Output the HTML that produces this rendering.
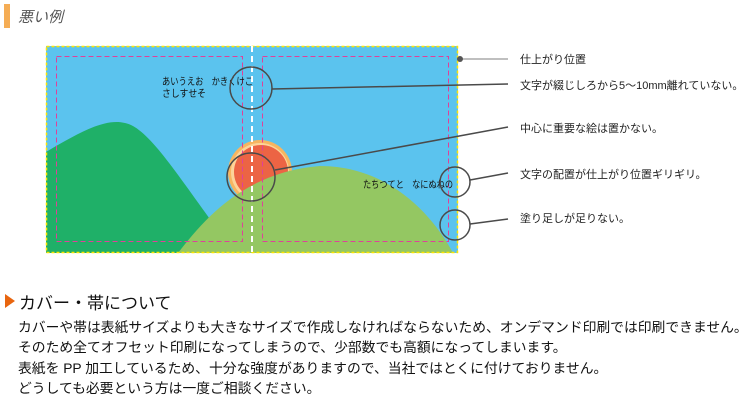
<!DOCTYPE html>
<html><head><meta charset="utf-8"><style>
html,body{margin:0;padding:0;background:#fff;width:750px;height:405px;overflow:hidden}
svg text{font-family:"Liberation Sans","Noto Sans CJK JP",sans-serif}
</style></head><body>
<svg width="750" height="405" viewBox="0 0 750 405" xmlns="http://www.w3.org/2000/svg">
<rect x="4" y="4" width="6" height="24" fill="#f5ad55"/>
<text x="18" y="22" font-size="15" font-style="italic" fill="#555">悪い例</text>
<rect x="46" y="46" width="412" height="207" fill="#5bc3ee"/>
<path d="M46 152 C80 132 105 118 125 123 C150 128 180 180 235 253 L46 253 Z" fill="#1fb068"/>
<circle cx="260" cy="172" r="32" fill="#f7b560"/>
<circle cx="260" cy="172" r="29" fill="#fcd49a"/>
<circle cx="261" cy="172" r="27" fill="#ec6444"/>
<path d="M178 253 C205 218 245 172 320 166 C385 166 430 210 453 253 Z" fill="#94c762"/>
<rect x="46.5" y="46.5" width="411" height="206" fill="none" stroke="#ffe600" stroke-width="1.5" stroke-dasharray="3,2"/>
<line x1="252" y1="46" x2="252" y2="253" stroke="#fff" stroke-width="2" stroke-dasharray="6,4"/>
<rect x="56.5" y="56.5" width="186" height="185" fill="none" stroke="#e0409a" stroke-width="1" stroke-dasharray="5,3"/>
<rect x="262.5" y="56.5" width="186" height="185" fill="none" stroke="#e0409a" stroke-width="1" stroke-dasharray="5,3"/>
<text x="162" y="85" font-size="10" fill="#111" textLength="91" lengthAdjust="spacingAndGlyphs">あいうえお　かきくけこ</text>
<text x="162" y="97" font-size="10" fill="#111" textLength="44" lengthAdjust="spacingAndGlyphs">さしすせそ</text>
<text x="363" y="188" font-size="10" fill="#111" textLength="90" lengthAdjust="spacingAndGlyphs">たちつてと　なにぬねの</text>
<g fill="none" stroke="#4a4a4a" stroke-width="1.5">
<circle cx="251" cy="88" r="21"/>
<circle cx="251" cy="177" r="24"/>
<circle cx="455" cy="182" r="15"/>
<circle cx="455" cy="225" r="15"/>
<line x1="272" y1="89" x2="508" y2="84"/>
<line x1="275" y1="170" x2="508" y2="127"/>
<line x1="470" y1="180" x2="508" y2="173"/>
<line x1="470" y1="224" x2="508" y2="219"/>
</g>
<line x1="460" y1="59" x2="508" y2="59" stroke="#aaa" stroke-width="1.5"/>
<circle cx="460" cy="59" r="3" fill="#555"/>
<g font-size="11" fill="#222">
<text x="520" y="63">仕上がり位置</text>
<text x="520" y="89">文字が綴じしろから5～10mm離れていない。</text>
<text x="520" y="132">中心に重要な絵は置かない。</text>
<text x="520" y="178">文字の配置が仕上がり位置ギリギリ。</text>
<text x="520" y="222">塗り足しが足りない。</text>
</g>
<polygon points="5,294 15,301 5,308" fill="#e8650f"/>
<text x="19" y="309" font-size="17" fill="#111">カバー・帯について</text>
<g font-size="13.8" fill="#111">
<text x="18" y="332">カバーや帯は表紙サイズよりも大きなサイズで作成しなければならないため、オンデマンド印刷では印刷できません。</text>
<text x="18" y="352">そのため全てオフセット印刷になってしまうので、少部数でも高額になってしまいます。</text>
<text x="18" y="373">表紙を PP 加工しているため、十分な強度がありますので、当社ではとくに付けておりません。</text>
<text x="18" y="393">どうしても必要という方は一度ご相談ください。</text>
</g>
</svg>
</body></html>
